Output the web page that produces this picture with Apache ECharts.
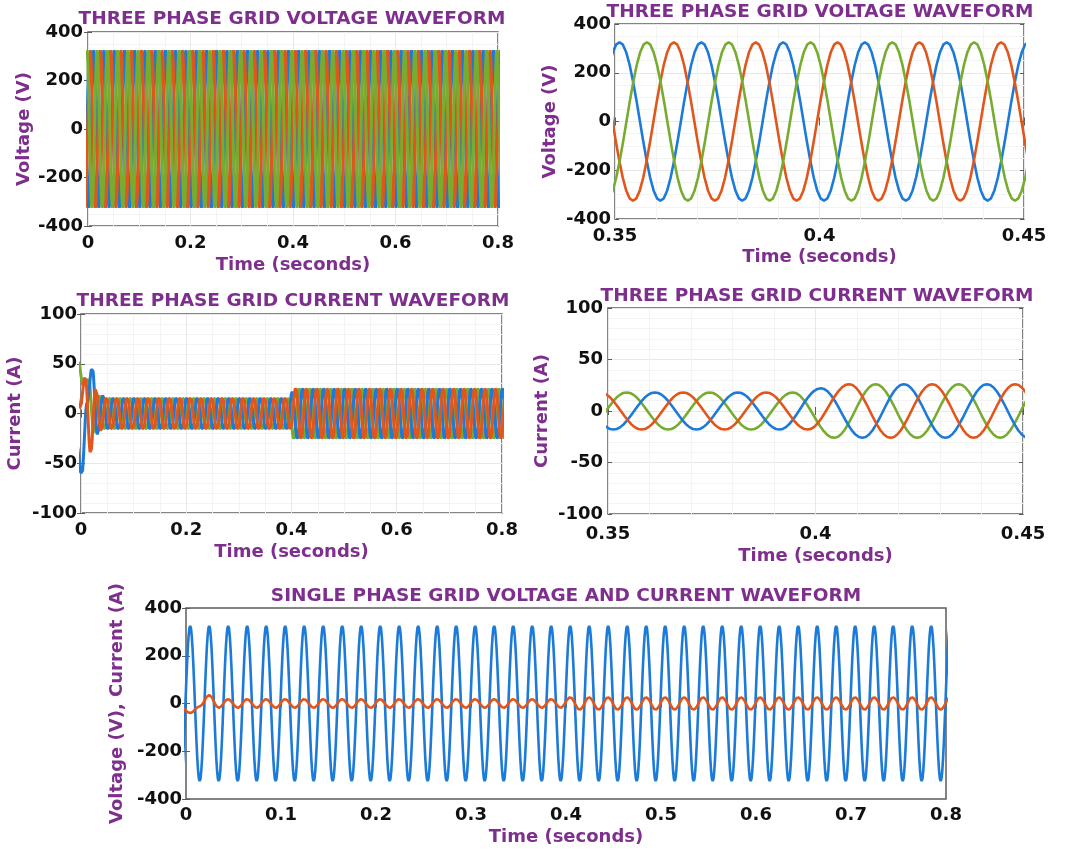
<!DOCTYPE html>
<html>
<head>
<meta charset="utf-8">
<title>Grid voltage and current waveforms</title>
<script src="https://cdn.jsdelivr.net/npm/echarts@6/dist/echarts.min.js"></script>
<style>
  html, body { margin: 0; padding: 0; background: #fff; }
  #chart { width: 1075px; height: 852px; }
</style>
</head>
<body>
<div id="chart"></div>
<script>
// ---- values ----
const GRID_PERIOD = 0.02;   // 50 Hz grid, one crest every 20 ms
// one crest -> trough sweep of the grid waveform, as a fraction of the crest
const HALF_CYCLE = [1, 0.97, 0.87, 0.71, 0.5, 0.26, 0, -0.26, -0.5, -0.71, -0.87, -0.97, -1];

const phaseColors = ['#1C7AD9', '#E0561B', '#77AC30'];   // blue, red, green

// three phase voltage: first crest time (s) of blue / red / green phase, crest (V)
const voltageFirstCrest = [0.0111, 0.0044, 0.0178];
const voltagePeak = [325, 325, 325];

// three phase current: first crest time (s) of blue / red / green phase
const currentFirstCrest = [0.0013, 0.0081, 0.0145];
// crest level (A) from each time on: load step at 0.4 s
const currentLevelFrom = [0, 0.4, 0.404];
const currentLevel = [18, 22, 26];
// start-up crests/troughs (A), every 10 ms starting one period before the first crest
const currentStartBlue = [0, -30, -62, 10, 47, -22];
const currentStartRed = [30, 5, 38, -40, 25, -18];
const currentStartGreen = [52, 28, 35, -20];

// single phase plot: voltage and current are in phase
const singleFirstCrest = 0.0044;
const singleVoltagePeak = 325;
const singleCurrentStart = [-15, -15, -40, -12, 35, -18];

// axes
const panelTitles = [
    'THREE PHASE GRID VOLTAGE WAVEFORM',
    'THREE PHASE GRID VOLTAGE WAVEFORM',
    'THREE PHASE GRID CURRENT WAVEFORM',
    'THREE PHASE GRID CURRENT WAVEFORM',
    'SINGLE PHASE GRID VOLTAGE AND CURRENT WAVEFORM'
];
const yNames = ['Voltage (V)', 'Voltage (V)', 'Current (A)', 'Current (A)', 'Voltage (V), Current (A)'];
const xName = 'Time (seconds)';
const timeRanges = [[0, 0.8, 0.2], [0.35, 0.45, 0.05], [0, 0.8, 0.2], [0.35, 0.45, 0.05], [0, 0.8, 0.1]];
const valueRanges = [[-400, 400, 200], [-400, 400, 200], [-100, 100, 50], [-100, 100, 50], [-400, 400, 200]];

// ---- build the traces ----
function currentLevelAt(t) {
    let v = currentLevel[0];
    currentLevelFrom.forEach((from, i) => { if (t >= from) v = currentLevel[i]; });
    return v;
}

// walk crest, trough, crest ... every half period; start values override the steady ones
function waveform(firstCrest, levelAt, start) {
    const half = GRID_PERIOD / 2;
    const t0 = firstCrest - GRID_PERIOD;
    const ext = [];
    for (let k = 0; t0 + (k - 1) * half <= 0.82; k++) {
        const t = t0 + k * half;
        const sign = k % 2 === 0 ? 1 : -1;
        ext.push([t, start && k < start.length ? start[k] : sign * levelAt(t)]);
    }
    const n = HALF_CYCLE.length - 1;
    const pts = [];
    for (let k = 0; k < ext.length - 1; k++) {
        const [ta, va] = ext[k];
        const [tb, vb] = ext[k + 1];
        for (let j = 0; j < n; j++) {
            const s = HALF_CYCLE[j];
            pts.push([ta + (tb - ta) * j / n, va * (1 + s) / 2 + vb * (1 - s) / 2]);
        }
    }
    pts.push(ext[ext.length - 1]);
    return pts;
}

const voltageWaves = voltageFirstCrest.map((tc, i) => waveform(tc, () => voltagePeak[i]));
const currentStarts = [currentStartBlue, currentStartRed, currentStartGreen];
const currentWaves = currentFirstCrest.map((tc, i) => waveform(tc, currentLevelAt, currentStarts[i]));
const singleVoltage = waveform(singleFirstCrest, () => singleVoltagePeak);
const singleCurrent = waveform(singleFirstCrest, currentLevelAt, singleCurrentStart);

// ---- layout ----
const PURPLE = '#7E2F8E';
const FRAME = '#5c5c5c';
const FONT = 'DejaVu Sans';

// box = [left, top, width, height]; title = centre x, centre y
const layouts = [
    {box: [88, 32, 410, 194], title: [292, 20], xLab: 8, xGap: 30, yLab: 5, yGap: 55, minorX: 4, minorY: 4, grid: true},
    {box: [615, 24, 409, 195], title: [820, 13], xLab: 8, xGap: 29, yLab: 4, yGap: 56, minorX: 5, minorY: 4, grid: true},
    {box: [81, 314, 421, 199], title: [293, 302], xLab: 8, xGap: 30, yLab: 4, yGap: 57, minorX: 4, minorY: 5, grid: true},
    {box: [608, 308, 415, 206], title: [817, 297], xLab: 11, xGap: 33, yLab: 5, yGap: 57, minorX: 5, minorY: 5, grid: true},
    {box: [186, 608, 760, 191], title: [566, 597], xLab: 7, xGap: 29, yLab: 4, yGap: 54, minorX: 5, minorY: 5, grid: false}
];

const grids = [], xAxes = [], yAxes = [], titles = [];
const labelStyle = {color: '#111', fontFamily: FONT, fontWeight: 'bold', fontSize: 18};
const nameStyle = {color: PURPLE, fontFamily: FONT, fontWeight: 'bold', fontSize: 18};

layouts.forEach((L, i) => {
    const [left, top, width, height] = L.box;
    grids.push({left, top, width, height, show: true, borderColor: FRAME, borderWidth: 1.5, backgroundColor: '#fff'});
    titles.push({
        text: panelTitles[i], left: L.title[0], top: L.title[1] - 10, textAlign: 'center', padding: 0,
        textStyle: {color: PURPLE, fontFamily: FONT, fontWeight: 'bold', fontSize: 18.5}
    });
    const [tMin, tMax, tStep] = timeRanges[i];
    const [vMin, vMax, vStep] = valueRanges[i];
    const tick = {show: true, inside: true, length: 4, lineStyle: {color: FRAME, width: 1}};
    const split = {show: L.grid, lineStyle: {color: '#e8e8e8', width: 1}};
    const minor = {show: L.grid, lineStyle: {color: '#f3f3f3', width: 1}};
    xAxes.push({
        type: 'value', gridIndex: i, min: tMin, max: tMax, interval: tStep,
        name: xName, nameLocation: 'middle', nameGap: L.xGap, nameTextStyle: nameStyle,
        axisLine: {show: false}, axisTick: tick,
        axisLabel: Object.assign({margin: L.xLab}, labelStyle),
        splitLine: split, minorTick: {show: false, splitNumber: L.minorX}, minorSplitLine: minor
    });
    xAxes.push({
        type: 'value', gridIndex: i, position: 'top', min: tMin, max: tMax, interval: tStep,
        axisLine: {show: false}, axisTick: tick, axisLabel: {show: false}, splitLine: {show: false}
    });
    yAxes.push({
        type: 'value', gridIndex: i, min: vMin, max: vMax, interval: vStep,
        name: yNames[i], nameLocation: 'middle', nameGap: L.yGap, nameTextStyle: nameStyle,
        axisLine: {show: false}, axisTick: tick,
        axisLabel: Object.assign({margin: L.yLab}, labelStyle),
        splitLine: split, minorTick: {show: false, splitNumber: L.minorY}, minorSplitLine: minor
    });
    yAxes.push({
        type: 'value', gridIndex: i, position: 'right', min: vMin, max: vMax, interval: vStep,
        axisLine: {show: false}, axisTick: tick, axisLabel: {show: false}, splitLine: {show: false}
    });
});

function trace(name, data, panel, color, width) {
    return {
        name, type: 'line', data, xAxisIndex: panel * 2, yAxisIndex: panel * 2,
        showSymbol: false, symbol: 'none', silent: true, clip: true,
        lineStyle: {color, width}, emphasis: {disabled: true}
    };
}

const series = [];
// voltage panels: green drawn last
[0, 1].forEach(p => {
    [0, 1, 2].forEach(k => series.push(trace('Phase ' + k, voltageWaves[k], p, phaseColors[k], p === 0 ? 3 : 2.6)));
});
// current panels: red drawn last
[2, 3].forEach(p => {
    [2, 0, 1].forEach(k => series.push(trace('Phase ' + k, currentWaves[k], p, phaseColors[k], p === 2 ? 3 : 2.6)));
});
series.push(trace('Voltage', singleVoltage, 4, phaseColors[0], 2.6));
series.push(trace('Current', singleCurrent, 4, phaseColors[1], 2.6));

const myChart = echarts.init(document.getElementById('chart'));
myChart.setOption({
    animation: false,
    backgroundColor: '#fff',
    title: titles,
    grid: grids,
    xAxis: xAxes,
    yAxis: yAxes,
    series
});
</script>
</body>
</html>
